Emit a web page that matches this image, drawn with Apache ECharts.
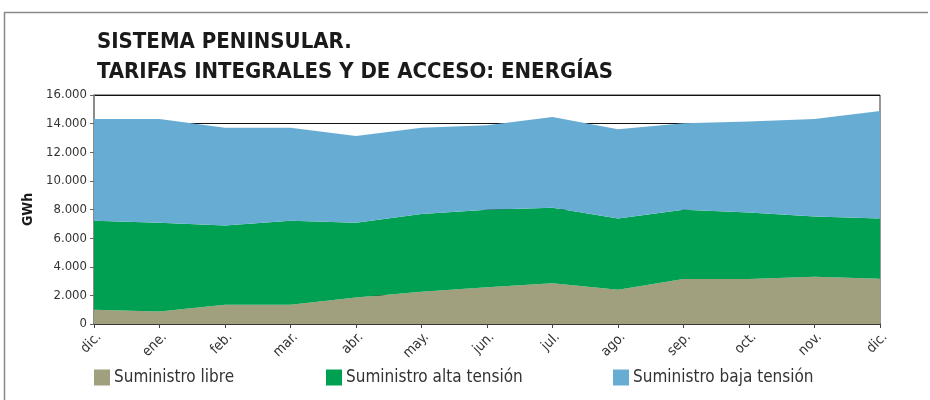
<!DOCTYPE html>
<html>
<head>
<meta charset="utf-8">
<script src="https://cdn.jsdelivr.net/npm/echarts@6/dist/echarts.min.js"></script>
<style>
  html, body { margin: 0; padding: 0; background: #ffffff; }
  #chart { width: 930px; height: 400px; }
</style>
</head>
<body>
<div id="chart"></div>
<script>
// Monthly energy (GWh), Sistema peninsular
const months = ['dic.', 'ene.', 'feb.', 'mar.', 'abr.', 'may.', 'jun.', 'jul.', 'ago.', 'sep.', 'oct.', 'nov.', 'dic.'];
const suministroLibre = [1000, 880, 1350, 1350, 1860, 2260, 2560, 2840, 2400, 3140, 3140, 3300, 3160];
const suministroAlta  = [6210, 6190, 5540, 5860, 5210, 5420, 5420, 5280, 4970, 4840, 4650, 4210, 4210];
const suministroBaja  = [7120, 7260, 6830, 6510, 6070, 6040, 5910, 6350, 6230, 6050, 6350, 6820, 7520];
const yTicks = { min: 0, max: 16000, interval: 2000 };

const FONT = "'Liberation Sans Narrow', 'DejaVu Sans Condensed', 'Liberation Sans', sans-serif";
const COLORS = { libre: '#a09f7e', alta: '#00a052', baja: '#67add3' };

function thousands(v) {
  return String(v).replace(/\B(?=(\d{3})+(?!\d))/g, '.');
}

function areaSeries(name, data, color) {
  return {
    name: name,
    type: 'line',
    stack: 'total',
    data: data,
    symbol: 'none',
    lineStyle: { width: 0 },
    areaStyle: { color: color, opacity: 1 },
    itemStyle: { color: color },
    silent: true
  };
}

function legendItem(name, left) {
  return {
    data: [name],
    left: left,
    top: 369,
    icon: 'rect',
    itemWidth: 16,
    itemHeight: 16,
    itemGap: 0,
    padding: 0,
    selectedMode: false,
    textStyle: { fontFamily: FONT, fontSize: 17, color: '#333333', padding: [0, 0, 0, -1] }
  };
}

const chart = echarts.init(document.getElementById('chart'), null, { renderer: 'canvas' });
chart.setOption({
  animation: false,
  backgroundColor: '#ffffff',
  title: {
    text: 'SISTEMA PENINSULAR.\nTARIFAS INTEGRALES Y DE ACCESO: ENERGÍAS',
    left: 92,
    top: 22,
    textStyle: { fontFamily: FONT, fontSize: 22, fontWeight: 'bold', lineHeight: 30, color: '#1a1a1a' }
  },
  legend: [
    legendItem('Suministro libre', 94),
    legendItem('Suministro alta tensión', 326),
    legendItem('Suministro baja tensión', 613)
  ],
  grid: { left: 94, right: 50, top: 95, bottom: 76, show: true, borderColor: '#333333', borderWidth: 1, backgroundColor: 'transparent' },
  xAxis: {
    type: 'category',
    data: months,
    boundaryGap: false,
    axisLine: { lineStyle: { color: '#444444', width: 1.5 } },
    axisTick: { show: true, length: 4, lineStyle: { color: '#444444' } },
    axisLabel: { rotate: 45, verticalAlign: 'top', fontFamily: FONT, fontSize: 14, color: '#333333', margin: 6, interval: 0 },
    splitLine: { show: false }
  },
  yAxis: {
    type: 'value',
    min: yTicks.min,
    max: yTicks.max,
    interval: yTicks.interval,
    name: 'GWh',
    nameLocation: 'middle',
    nameRotate: 90,
    nameGap: 57,
    nameTextStyle: { fontFamily: FONT, fontSize: 14, fontWeight: 'bold', color: '#1a1a1a' },
    axisLine: { show: true, lineStyle: { color: '#888888', width: 1.5 } },
    axisTick: { show: true, length: 4, lineStyle: { color: '#666666' } },
    axisLabel: { fontFamily: FONT, fontSize: 13, color: '#333333', margin: 7, formatter: thousands },
    splitLine: { show: true, lineStyle: { color: '#111111', width: 1 } }
  },
  series: [
    areaSeries('Suministro libre', suministroLibre, COLORS.libre),
    areaSeries('Suministro alta tensión', suministroAlta, COLORS.alta),
    areaSeries('Suministro baja tensión', suministroBaja, COLORS.baja)
  ],
  graphic: [
    { type: 'line', shape: { x1: 4, y1: 12.5, x2: 928, y2: 12.5 }, style: { stroke: '#888888', lineWidth: 1.5 }, silent: true },
    { type: 'line', shape: { x1: 4.5, y1: 12, x2: 4.5, y2: 400 }, style: { stroke: '#888888', lineWidth: 1.5 }, silent: true }
  ]
});
</script>
</body>
</html>
